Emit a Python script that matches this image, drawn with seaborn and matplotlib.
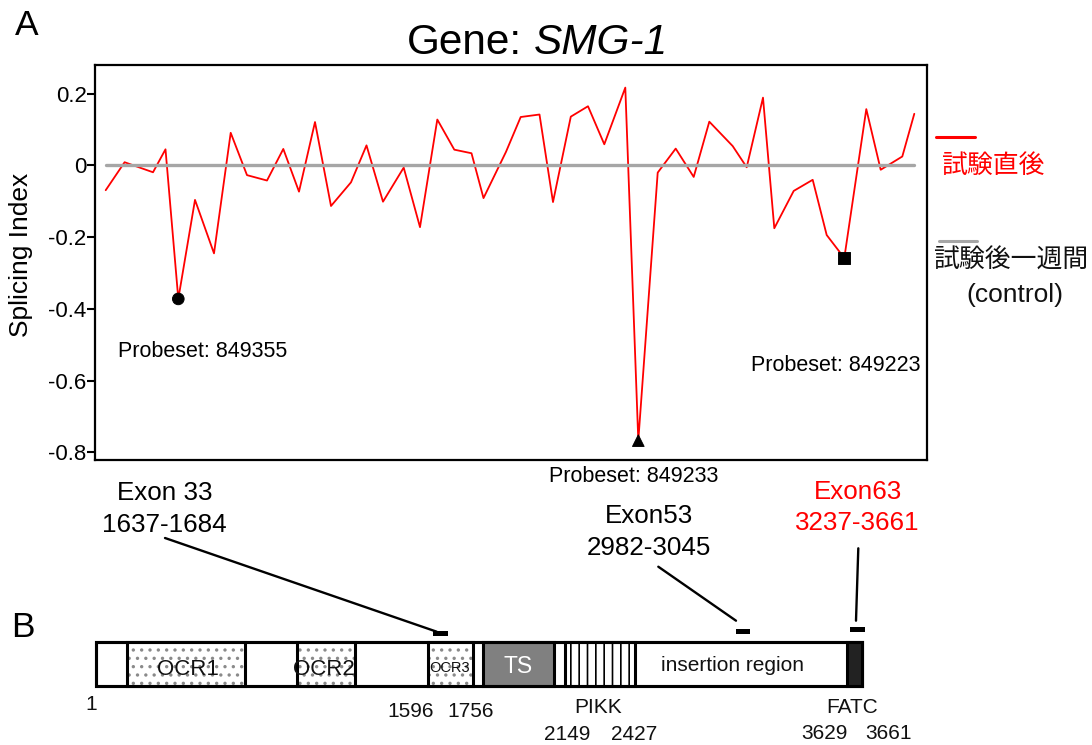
import numpy as np
import pandas as pd
import matplotlib
matplotlib.use("Agg")
import matplotlib.pyplot as plt
import seaborn as sns
from matplotlib.patches import Rectangle
from matplotlib.lines import Line2D

sns.set_theme(style="white")
plt.rcParams["font.family"] = ["Liberation Sans", "Noto Sans CJK JP"]
plt.rcParams["axes.unicode_minus"] = False
plt.rcParams["hatch.linewidth"] = 1.2
plt.rcParams["text.color"] = "black"
plt.rcParams["ytick.color"] = "black"
plt.rcParams["ytick.labelcolor"] = "black"

# ---- Panel A data: splicing index per probeset along SMG-1 ----
probe_pos = [10.7, 29.6, 58.0, 70.5, 83.3, 100.0, 119.0, 135.7, 152.0, 172.0,
             188.3, 204.0, 220.0, 236.0, 256.0, 271.5, 288.0, 308.7, 325.0, 342.3,
             359.3, 376.5, 388.5, 411.0, 425.7, 444.5, 458.0, 475.8, 493.0, 509.3,
             530.3, 543.3, 562.7, 580.7, 598.7, 614.3, 637.7, 651.7, 668.0, 679.3,
             698.7, 717.7, 731.7, 749.3, 771.3, 785.7, 807.3, 819.3]
splicing_index = [-0.069, 0.009, -0.019, 0.045, -0.372, -0.096, -0.245, 0.091, -0.027, -0.042,
                  0.046, -0.073, 0.121, -0.113, -0.047, 0.056, -0.101, -0.006, -0.172, 0.128,
                  0.044, 0.034, -0.091, 0.038, 0.135, 0.142, -0.102, 0.136, 0.165, 0.059,
                  0.217, -0.767, -0.020, 0.047, -0.032, 0.122, 0.054, -0.005, 0.189, -0.175,
                  -0.071, -0.040, -0.194, -0.258, 0.157, -0.012, 0.025, 0.144]
control_index = [0.0] * len(probe_pos)

highlight_idx = [4, 31, 43]
highlight_ids = ["849355", "849233", "849223"]

ytick_vals = [-0.8, -0.6, -0.4, -0.2, 0.0, 0.2]
ytick_labels = ["-0.8", "-0.6", "-0.4", "-0.2", "0", "0.2"]

# ---- Panel B data: SMG-1 protein domains (amino-acid positions) ----
protein_len = 3661
ocr_domains = [("OCR1", 150, 716), ("OCR2", 966, 1243), ("OCR3", 1596, 1756)]
ts_domain = (1799, 2102)
pikk_domain = (2149, 2427)
fatc_domain = (3629, 3661)
exon_marks = [(1614, 1667), (3001, 3080), (3635, 3667)]
exon_names = ["Exon 33", "Exon53", "Exon63"]
exon_ranges = ["1637-1684", "2982-3045", "3237-3661"]

df = pd.DataFrame({"pos": probe_pos, "si": splicing_index, "ctrl": control_index})
hl = df.iloc[highlight_idx].copy()
hl["probeset"] = highlight_ids

W, H = 1092, 745
fig = plt.figure(figsize=(W / 100, H / 100), dpi=100)
fig.patch.set_facecolor("white")

def fx(px):
    return px / W

def fy(py):
    return 1 - py / H

# ---------------- Panel A ----------------
ax = fig.add_axes([fx(95), fy(460), fx(927) - fx(95), fy(65) - fy(460)])
sns.lineplot(data=df, x="pos", y="si", color="#FF0000", lw=1.3, ax=ax, zorder=2)
sns.lineplot(data=df, x="pos", y="ctrl", color="#A6A6A6", lw=2.4, ax=ax, zorder=3)
sns.scatterplot(data=hl, x="pos", y="si", style="probeset",
                markers={"849355": "o", "849233": "^", "849223": "s"},
                color="black", s=70, edgecolor="black", legend=False, ax=ax, zorder=4)
ax.set_xlim(0, 832)
ax.set_ylim(-0.821, 0.28)
ax.set_xticks([])
ax.set_yticks(ytick_vals)
ax.set_yticklabels(ytick_labels)
ax.set_xlabel("")
ax.set_ylabel("")
ax.tick_params(axis="y", direction="out", length=6, width=1.5, color="black",
               labelcolor="black", labelsize=16, pad=0, left=True)
for s in ax.spines.values():
    s.set_color("black")
    s.set_linewidth(1.6)

# ---------------- Panel B ----------------
knots_aa = [-20000, 1, 1596, 1756, 2149, 2427, 3629, 3661, 30000]
knots_px = [96 - 20001 * 0.2083, 96, 428.3, 473.3, 564.7, 634.7, 847, 862,
            862 + 26339 * 0.469]

def fwd(a):
    return np.interp(a, knots_aa, knots_px)

def inv(p):
    return np.interp(p, knots_px, knots_aa)

ax2 = fig.add_axes([fx(96), fy(700), fx(862) - fx(96), fy(620) - fy(700)])
ax2.set_xscale("function", functions=(fwd, inv))
ax2.set_xlim(1, protein_len)
ax2.set_ylim(700, 620)
ax2.axis("off")
ax2.patch.set_alpha(0)

bar_top, bar_h = 641.5, 44
lwb = 2.2
ax2.add_patch(Rectangle((1, bar_top), protein_len - 1, bar_h, facecolor="white",
                        edgecolor="black", lw=lwb, zorder=1, clip_on=False))
for name, a0, a1 in ocr_domains:
    ax2.add_patch(Rectangle((a0, bar_top), a1 - a0, bar_h, facecolor="white",
                            edgecolor="#8a8a8a", lw=0, hatch="..", zorder=2, clip_on=False))
    ax2.add_patch(Rectangle((a0, bar_top), a1 - a0, bar_h, fill=False,
                            edgecolor="black", lw=lwb, zorder=3, clip_on=False))
ax2.add_patch(Rectangle((ts_domain[0], bar_top), ts_domain[1] - ts_domain[0], bar_h,
                        facecolor="#808080", edgecolor="black", lw=lwb, zorder=3, clip_on=False))
ax2.add_patch(Rectangle((pikk_domain[0], bar_top), pikk_domain[1] - pikk_domain[0], bar_h,
                        facecolor="white", edgecolor="black", lw=lwb, hatch="||",
                        zorder=3, clip_on=False))
ax2.add_patch(Rectangle((fatc_domain[0], bar_top), fatc_domain[1] - fatc_domain[0], bar_h,
                        facecolor="#222222", edgecolor="black", lw=lwb, zorder=3, clip_on=False))
ax2.add_patch(Rectangle((1, bar_top), protein_len - 1, bar_h, fill=False,
                        edgecolor="black", lw=lwb, zorder=4, clip_on=False))
exon_y = [631, 629, 627]
for (a0, a1), y0 in zip(exon_marks, exon_y):
    ax2.add_patch(Rectangle((a0, y0), a1 - a0, 4.8, facecolor="black",
                            edgecolor="none", zorder=5, clip_on=False))

# ---------------- overlay for labels ----------------
ov = fig.add_axes([0, 0, 1, 1])
ov.set_xlim(0, W)
ov.set_ylim(H, 0)
ov.axis("off")
ov.patch.set_alpha(0)

ov.text(15, 35, "A", fontsize=25.5, ha="left", va="baseline")
ov.text(11, 637, "B", fontsize=25.5, ha="left", va="baseline")
ov.text(522, 54, "Gene:", fontsize=30.5, ha="right", va="baseline")
ov.text(534, 54, "SMG-1", fontsize=30.5, ha="left", va="baseline", style="italic")
ov.text(21, 255, "Splicing Index", fontsize=19, rotation=90, ha="center", va="center")

# probeset labels
ov.text(118, 356.7, f"Probeset: {highlight_ids[0]}", fontsize=15.5, ha="left", va="baseline")
ov.text(548.7, 481.7, f"Probeset: {highlight_ids[1]}", fontsize=15.5, ha="left", va="baseline")
ov.text(750.7, 370.7, f"Probeset: {highlight_ids[2]}", fontsize=15.5, ha="left", va="baseline")

# legend
ov.add_line(Line2D([936, 975], [136.5, 136.5], color="#FF0000", lw=2.2))
ov.text(993, 166, "試験直後", color="#FF0000", fontsize=18.6, ha="center", va="center")
ov.add_line(Line2D([939, 977], [240.7, 240.7], color="#A6A6A6", lw=2.2))
ov.text(1010.5, 261, "試験後一週間", color="#111111", fontsize=18.6, ha="center", va="center")
ov.text(1015, 294.7, "(control)", color="#111111", fontsize=19, ha="center", va="center")

# exon labels and leader lines
exon_colors = ["black", "black", "#FF0000"]
name_pos = [(165, 500), (649, 523.3), (858, 499.3)]
range_pos = [(164.7, 531.7), (649, 555), (857.7, 530)]
leaders = [((165, 538), (436.7, 631.7)), ((658.3, 566.7), (736, 620.7)),
           ((858.3, 548.3), (856, 620.7))]
for nm, rg, c, npos, rpos, (p0, p1) in zip(exon_names, exon_ranges, exon_colors,
                                           name_pos, range_pos, leaders):
    ov.text(npos[0], npos[1], nm, color=c, fontsize=18.7, ha="center", va="baseline")
    ov.text(rpos[0], rpos[1], rg, color=c, fontsize=18.7, ha="center", va="baseline")
    ov.add_line(Line2D([p0[0], p1[0]], [p0[1], p1[1]], color="black", lw=1.7))

# domain labels
ov.text(188, 675, "OCR1", fontsize=16, color="#111111", ha="center", va="baseline")
ov.text(324, 675, "OCR2", fontsize=16, color="#111111", ha="center", va="baseline")
ov.text(450, 671.7, "OCR3", fontsize=10.5, color="#111111", ha="center", va="baseline")
ov.text(518, 673, "TS", fontsize=16.5, color="white", ha="center", va="baseline")
ov.text(732.5, 671, "insertion region", fontsize=15, color="#111111", ha="center", va="baseline")

# position labels
pos_labels = [("1", 91, 710), ("1596", 411, 716.7), ("1756", 470.5, 716.7),
              ("PIKK", 598.3, 713.3), ("FATC", 852, 713.3),
              ("2149", 566.7, 740), ("2427", 634.5, 740),
              ("3629", 824.5, 739), ("3661", 888.3, 739)]
for t, x, y in pos_labels:
    ov.text(x, y, t, fontsize=15, color="#111111", ha="center", va="baseline")

fig.savefig("out.png", dpi=100, facecolor="white")
